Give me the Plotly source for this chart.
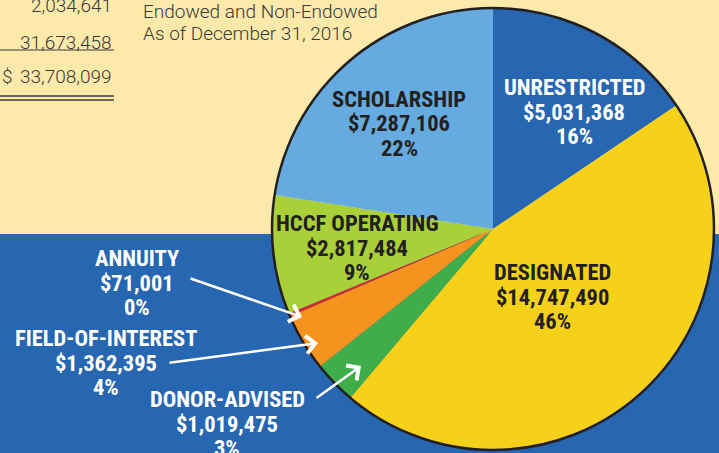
import plotly.graph_objects as go

W, H = 719, 453

# ---- data ----
categories = ["UNRESTRICTED", "DESIGNATED", "DONOR-ADVISED", "FIELD-OF-INTEREST",
              "ANNUITY", "HCCF OPERATING", "SCHOLARSHIP"]
values = [5031368, 14747490, 1019475, 1362395, 71001, 2817484, 7287106]
pct_labels = ["16%", "46%", "3%", "4%", "0%", "9%", "22%"]
colors = ["#2766b0", "#f6d11a", "#3fae4a", "#f6921e", "#d7262f", "#a9cf39", "#65abdf"]
table_values = ["2,034,641", "31,673,458", "$ 33,708,099"]
subtitle = ["Endowed and Non-Endowed", "As of December 31, 2016"]

CREAM = "#fde9aa"
BLUE = "#2766b0"
DARK = "#231f20"

def px(x):
    return x / W

def py(y):
    return 1 - y / H

# pie geometry (pixels)
cx, cy, r = 493, 229, 221

fig = go.Figure()
fig.add_trace(go.Pie(
    labels=categories, values=values, sort=False, direction="clockwise",
    rotation=0, textinfo="none", hoverinfo="label+value",
    marker=dict(colors=colors, line=dict(width=0)),
    domain=dict(x=[px(cx - r), px(cx + r)], y=[py(cy + r), py(cy - r)]),
    showlegend=False,
))

shapes = [
    dict(type="rect", xref="paper", yref="paper", x0=0, x1=1, y0=0, y1=py(234),
         fillcolor=BLUE, line=dict(width=0), layer="below"),
    dict(type="circle", xref="paper", yref="paper", x0=px(cx - r), x1=px(cx + r),
         y0=py(cy + r), y1=py(cy - r), line=dict(color=DARK, width=2.5), layer="above"),
    # underline and double underline for the table
    dict(type="line", xref="paper", yref="paper", x0=0, x1=px(114), y0=py(50), y1=py(50),
         line=dict(color="#3a3a3a", width=1.2)),
    dict(type="line", xref="paper", yref="paper", x0=0, x1=px(114), y0=py(96), y1=py(96),
         line=dict(color="#3a3a3a", width=1.6)),
    dict(type="line", xref="paper", yref="paper", x0=0, x1=px(114), y0=py(100), y1=py(100),
         line=dict(color="#3a3a3a", width=1.6)),
]

annotations = []
TXT_FONT = "Roboto"
TXT = dict(family=TXT_FONT, size=19, color="#3a3a3a", weight=300)
# table numbers (right aligned)
for val, yy in zip(table_values[:2], [6, 42]):
    annotations.append(dict(text=val, xref="paper", yref="paper", x=px(114), y=py(yy),
                            xanchor="right", yanchor="middle", showarrow=False, font=TXT))
annotations.append(dict(text="$", xref="paper", yref="paper", x=px(0), y=py(77),
                        xanchor="left", yanchor="middle", showarrow=False, font=TXT))
annotations.append(dict(text=table_values[2][2:], xref="paper", yref="paper", x=px(114), y=py(77),
                        xanchor="right", yanchor="middle", showarrow=False, font=TXT))
for line, yy in zip(subtitle, [11, 34]):
    annotations.append(dict(text=line, xref="paper", yref="paper", x=px(141), y=py(yy),
                            xanchor="left", yanchor="middle", showarrow=False, font=TXT))

# slice labels: (index, center x, first line y, color)
label_pos = [
    (0, 574, 87, "white"),
    (6, 399, 99, DARK),
    (5, 357, 223, DARK),
    (1, 552, 272, DARK),
    (4, 137, 258, "white"),
    (3, 106, 338, "white"),
    (2, 227, 399, "white"),
]
LBL_FONT = "Roboto Condensed, Roboto"
for i, xx, yy, col in label_pos:
    lines = [categories[i], f"${values[i]:,}", pct_labels[i]]
    for k, t in enumerate(lines):
        annotations.append(dict(text=t, xref="paper", yref="paper", x=px(xx), y=py(yy + 24.5 * k),
                                xanchor="center", yanchor="middle", showarrow=False,
                                font=dict(family=LBL_FONT, size=22.5, color=col, weight=700)))

# arrows: (start, tip)
arrows = [((189, 278), (302, 317)), ((168, 363), (318, 343)), ((315, 399), (361, 366))]
for (sx, sy), (tx, ty) in arrows:
    annotations.append(dict(text="", xref="paper", yref="paper", x=px(tx), y=py(ty),
                            ax=sx - tx, ay=sy - ty, axref="pixel", ayref="pixel",
                            showarrow=True, arrowhead=4, arrowsize=1.4, arrowwidth=2.5,
                            arrowcolor="white", standoff=0))

fig.update_layout(
    width=W, height=H, margin=dict(l=0, r=0, t=0, b=0),
    paper_bgcolor=CREAM, plot_bgcolor=CREAM,
    shapes=shapes, annotations=annotations,
)

fig.write_html("out.html")
